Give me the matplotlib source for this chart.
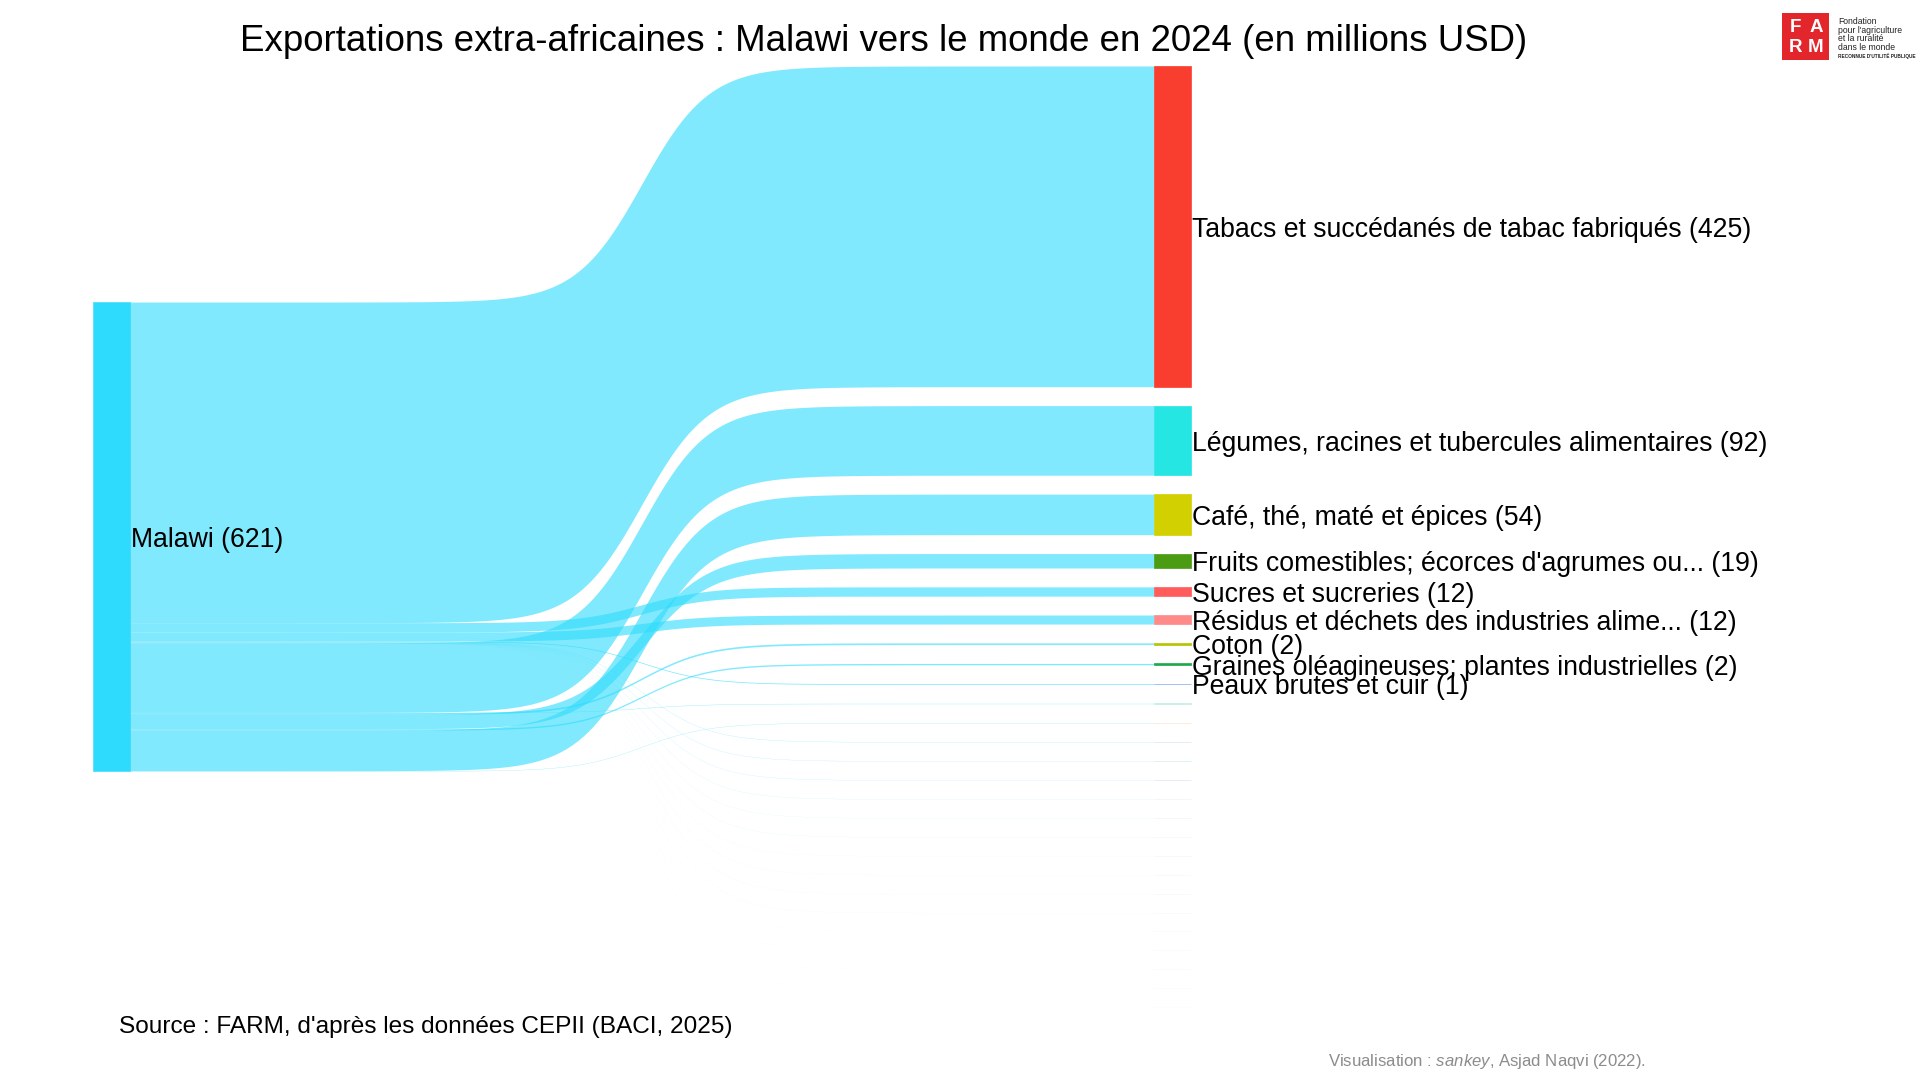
import matplotlib
matplotlib.use("Agg")
import matplotlib.pyplot as plt
from matplotlib.patches import Rectangle
import numpy as np

plt.rcParams["font.family"] = ["Liberation Sans", "DejaVu Sans"]
plt.rcParams["mathtext.fontset"] = "custom"
plt.rcParams["mathtext.it"] = "Liberation Sans:italic"
plt.rcParams["mathtext.rm"] = "Liberation Sans"

TITLE = "Exportations extra-africaines : Malawi vers le monde en 2024 (en millions USD)"
SOURCE_NOTE = "Source : FARM, d'après les données CEPII (BACI, 2025)"

origin = "Malawi"
origin_color = "#2EDBFC"

# right column, top to bottom (values in millions USD)
products = [
    "Tabacs et succédanés de tabac fabriqués",
    "Légumes, racines et tubercules alimentaires",
    "Café, thé, maté et épices",
    "Fruits comestibles; écorces d'agrumes ou...",
    "Sucres et sucreries",
    "Résidus et déchets des industries alime...",
    "Coton",
    "Graines oléagineuses; plantes industrielles",
    "Peaux brutes et cuir",
] + [f"Autres produits {i}" for i in range(1, 18)]

values = [424.6, 92.2, 53.7, 19.1, 12.3, 11.9, 2.2, 1.8, 1.0,
          0.45, 0.35, 0.3, 0.25, 0.2, 0.15, 0.1, 0.08,
          0.06, 0.05, 0.04, 0.03, 0.02, 0.01, 0.01, 0.005, 0.003]

colors = ["#F93E30", "#25E6E3", "#D2D000", "#4B9B13", "#FF5C5C", "#FF8A8A",
          "#B8C400", "#1FA84A", "#80A8F0",
          "#C4EEE6", "#FCE2CE", "#D6E6F2", "#D2F0EA", "#E2E2F8", "#F4F0F6",
          "#F0F6FA", "#F2F8F0", "#FAF6F0", "#F4F8FC", "#F8F6FC", "#F4FCFA",
          "#FCFAF4", "#F8FAFE", "#FCFAFA", "#F8FEFA", "#FAFCFE"]

# order in which the flows leave the Malawi node, top to bottom
source_order = [0, 4, 5, 8, 11, 12, 13, 14, 15, 16, 17, 18, 19, 20, 21, 22, 23, 24, 25,
                1, 9, 6, 3, 7, 2, 10]

gap = 25.0          # space between nodes, in value units
px_per_unit = 0.7553
top_px = 66
left_px, span_px = 93, 1061
node_w = 36.5 / span_px
curve_k = 30.75
label_size = 19.2
label_shift = 4.5   # nudges labels down a little, in value units

fig = plt.figure(figsize=(19.2, 10.8), dpi=100)
ax = fig.add_axes([0, 0, 1, 1])
ax.set_xlim(-left_px / span_px, (1920 - left_px) / span_px)
ax.set_ylim((1080 - top_px) / px_per_unit, -top_px / px_per_unit)
ax.axis("off")

# right column layout
right_top = []
cursor = 0.0
for v in values:
    right_top.append(cursor)
    cursor += v + gap
right_extent = cursor - gap
total = sum(values)
left_top = (right_extent - total) / 2

# flows
xs = np.linspace(node_w, 1, 300)
t = (xs - node_w) / (1 - node_w)
s = 1 / (1 + np.exp(-curve_k * (t - 0.5)))
f = (s - s[0]) / (s[-1] - s[0])
cursor = left_top
for idx in source_order:
    v = values[idx]
    upper = cursor + (right_top[idx] - cursor) * f
    ax.fill_between(xs, upper, upper + v, color=origin_color, alpha=0.6, lw=0)
    cursor += v

# nodes
ax.add_patch(Rectangle((0, left_top), node_w, total, facecolor=origin_color,
                       edgecolor=origin_color, lw=0.4))
ax.text(node_w + 0.001, left_top + total / 2 + label_shift, f"{origin} ({total:.0f})",
        ha="left", va="center", fontsize=label_size, color="black")
for name, v, c, y in zip(products, values, colors, right_top):
    ax.add_patch(Rectangle((1, y), node_w, v, facecolor=c, edgecolor=c, lw=0.5))
    if round(v) >= 1:
        ax.text(1 + node_w + 0.001, y + v / 2 + label_shift, f"{name} ({v:.0f})",
                ha="left", va="center", fontsize=label_size, color="black")

# titles and notes
fig.text(884 / 1920, 1 - 41.5 / 1080, TITLE, ha="center", va="center", fontsize=26.4)
fig.text(119 / 1920, 1 - 1027.5 / 1080, SOURCE_NOTE, ha="left", va="center", fontsize=17.6)
fig.text(1646 / 1920, 1 - 1061.5 / 1080, "Visualisation : $\\it{sankey}$, Asjad Naqvi (2022).",
         ha="right", va="center", fontsize=12.1, color="#8C8C8C")

# FARM logo
fig.add_artist(Rectangle((1782 / 1920, 1 - 60 / 1080), 47 / 1920, 47 / 1080,
                         transform=fig.transFigure, color="#E3262B", lw=0))
for letter, lx, ly in (("F", 1795, 28), ("A", 1816, 28), ("R", 1795, 47), ("M", 1816, 47)):
    fig.text(lx / 1920, 1 - ly / 1080, letter, ha="center", va="center",
             fontsize=13.5, color="white", fontweight="bold")
logo_lines = ["Fondation", "pour l'agriculture", "et la ruralité", "dans le monde"]
for i, line in enumerate(logo_lines):
    fig.text(1838 / 1920, 1 - (22 + 8.4 * i) / 1080, line, ha="left", va="center",
             fontsize=6.2, color="#222222")
fig.text(1838 / 1920, 1 - 55.5 / 1080, "RECONNUE D'UTILITÉ PUBLIQUE", ha="left",
         va="center", fontsize=3.4, color="#222222", fontweight="bold")

fig.savefig("out.png", dpi=100)
